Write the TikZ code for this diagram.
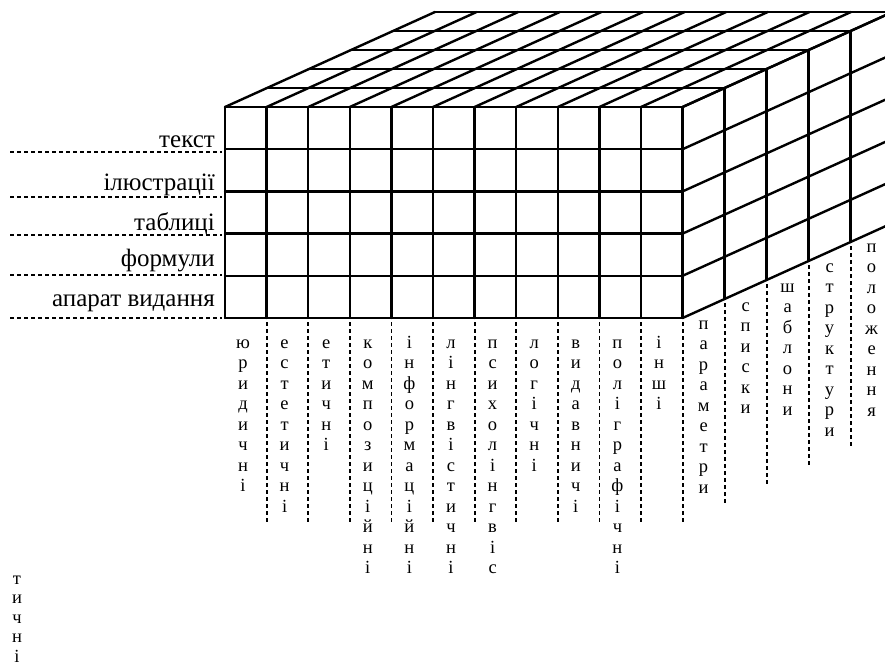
\documentclass[tikz,border=0pt]{standalone}
\usepackage{fontspec}
\setmainfont{Liberation Serif}
\newfontfamily\lserif{Liberation Serif}
\newcommand\vword[4][20.5]{\foreach \ch [count=\nn from 0] in {#4}{\node[vl] at (#2,#3+#1*\nn) {\ch};}}
\begin{document}
\begin{tikzpicture}[x=1pt,y=-1pt,
  grid/.style={line width=2.4pt, line cap=round, line join=round},
  dline/.style={line width=1.8pt, dash pattern=on 4pt off 3pt},
  vl/.style={anchor=base, inner sep=0pt, font=\lserif\fontsize{18.5}{20}\selectfont},
  hl/.style={anchor=base east, inner sep=0pt, font=\lserif\fontsize{25}{28}\selectfont}]
\useasboundingbox (0,0) rectangle (885,668);
\clip (0,0) rectangle (885,668);
% front face
\foreach \i in {0,...,5} \draw[grid] (225,107+\i*42.2) -- (682.6,107+\i*42.2);
\foreach \j in {0,...,11} \draw[grid] (225+\j*41.6,107) -- (225+\j*41.6,318);
% top face
\foreach \k in {1,...,5} \draw[grid] (225+\k*42,107-\k*19) -- (682.6+\k*42,107-\k*19);
\foreach \j in {0,...,11} \draw[grid] (225+\j*41.6,107) -- (435+\j*41.6,12);
% right face
\foreach \k in {1,...,5} \draw[grid] (682.6+\k*42,107-\k*19) -- (682.6+\k*42,318-\k*19);
\foreach \i in {0,...,5} \draw[grid] (682.6,107+\i*42.2) -- (892.6,12+\i*42.2);
% left dashed lines and labels
\foreach \y in {152,197,235,275,318} \draw[dline] (10,\y) -- (222,\y);
\node[hl] (t1) at (215,148) {текст};
\node[hl] (t2) at (215,191) {ілюстрації};
\node[hl] (t3) at (215,230) {таблиці};
\node[hl] (t4) at (215,266) {формули};
\node[hl] (t5) at (215,306) {апарат видання};
% front dashed lines
\foreach \j in {1,...,11} \draw[dline] (225+\j*41.6,322) -- (225+\j*41.6,522);
% right dashed lines
\foreach \k in {1,...,4} \draw[dline] (682.6+\k*42,322-\k*19) -- (682.6+\k*42,522-\k*19);
% front labels
\vword{243}{348}{ю,р,и,д,и,ч,н,і}
\vword{284.6}{348}{е,с,т,е,т,и,ч,н,і}
\vword{326.2}{348}{е,т,и,ч,н,і}
\vword{367.8}{348}{к,о,м,п,о,з,и,ц,і,й,н,і}
\vword{409.4}{348}{і,н,ф,о,р,м,а,ц,і,й,н,і}
\vword{451}{348}{л,і,н,г,в,і,с,т,и,ч,н,і}
\vword{492.6}{348}{п,с,и,х,о,л,і,н,г,в,і,с}
\vword{534.2}{348}{л,о,г,і,ч,н,і}
\vword{575.8}{348}{в,и,д,а,в,н,и,ч,і}
\vword{617.4}{348}{п,о,л,і,г,р,а,ф,і,ч,н,і}
\vword{659}{348}{і,н,ш,і}
% right labels
\vword{703.6}{329}{п,а,р,а,м,е,т,р,и}
\vword{745.6}{311}{с,п,и,с,к,и}
\vword{787.6}{292}{ш,а,б,л,о,н,и}
\vword{829.6}{272}{с,т,р,у,к,т,у,р,и}
\vword{871.6}{252}{п,о,л,о,ж,е,н,н,я}
% stray fragment
\vword[19.5]{17}{584}{т,и,ч,н,і}
\end{tikzpicture}
\end{document}
